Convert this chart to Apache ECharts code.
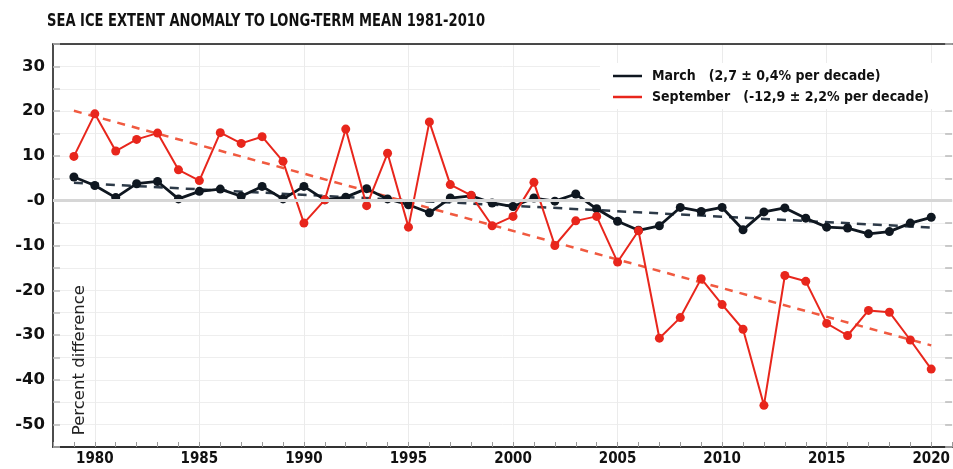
<!DOCTYPE html>
<html><head><meta charset="utf-8">
<script src="https://cdn.jsdelivr.net/npm/echarts@6/dist/echarts.min.js"></script>
<style>html,body{margin:0;padding:0;background:#fff}#c{width:953px;height:469px}</style>
</head><body><div id="c"></div>
<script>
const axisYears = [1978,1979,1980,1981,1982,1983,1984,1985,1986,1987,1988,1989,1990,1991,1992,1993,1994,1995,1996,1997,1998,1999,2000,2001,2002,2003,2004,2005,2006,2007,2008,2009,2010,2011,2012,2013,2014,2015,2016,2017,2018,2019,2020,2021];
const dataYears = [1979,1980,1981,1982,1983,1984,1985,1986,1987,1988,1989,1990,1991,1992,1993,1994,1995,1996,1997,1998,1999,2000,2001,2002,2003,2004,2005,2006,2007,2008,2009,2010,2011,2012,2013,2014,2015,2016,2017,2018,2019,2020];
const march = [5.3,3.4,0.7,3.8,4.3,0.4,2.1,2.6,1.0,3.2,0.4,3.2,0.2,0.8,2.7,0.4,-0.9,-2.7,0.6,1.1,-0.5,-1.3,0.6,-0.1,1.5,-1.8,-4.6,-6.6,-5.6,-1.5,-2.4,-1.5,-6.5,-2.5,-1.6,-3.9,-5.9,-6.1,-7.4,-6.9,-5.0,-3.7];
const september = [9.9,19.4,11.1,13.7,15.1,6.9,4.5,15.2,12.8,14.3,8.8,-5.0,0.2,16.0,-1.1,10.6,-5.9,17.6,3.6,1.2,-5.6,-3.5,4.1,-10.0,-4.5,-3.5,-13.7,-6.7,-30.7,-26.1,-17.4,-23.2,-28.7,-45.7,-16.7,-18.0,-27.4,-30.1,-24.5,-24.9,-31.1,-37.6];
const trendYears = [1979, 2020];
const marchTrend = [4.0, -6.0];
const septemberTrend = [20.1, -32.3];
const seriesNames = ['March', 'September'];
const legendLabels = ['March   (2,7 \u00b1 0,4% per decade)', 'September   (-12,9 \u00b1 2,2% per decade)'];
const titleText = 'SEA ICE EXTENT ANOMALY TO LONG-TERM MEAN 1981-2010';
const yAxisTitle = 'Percent difference';

const pairs = (xs, vs) => xs.map((x, i) => [String(x), vs[i]]);
const condensed = '"DejaVu Sans Condensed", "DejaVu Sans", sans-serif';

// fit the title to the reference width with a horizontal scale
const titleFont = 'bold 18px "DejaVu Sans Condensed", "DejaVu Sans", sans-serif';
const ctx = document.createElement('canvas').getContext('2d');
ctx.font = titleFont;
const titleScale = Math.min(1, 438 / ctx.measureText(titleText).width);

const chart = echarts.init(document.getElementById('c'), null, {renderer: 'canvas'});
chart.setOption({
  animation: false,
  backgroundColor: '#fff',
  grid: {left: 53, right: -1, top: 44, bottom: 22, show: false},
  legend: {
    orient: 'vertical', left: 600, top: 63,
    data: seriesNames,
    icon: 'rect', itemWidth: 29, itemHeight: 2.5, itemGap: 7,
    backgroundColor: '#fff', padding: [6, 40, 5, 13],
    formatter: n => legendLabels[seriesNames.indexOf(n)],
    textStyle: {fontFamily: condensed, fontWeight: 'bold', fontSize: 14, color: '#111', padding: [0, 0, 0, 5]}
  },
  graphic: [{
    type: 'text', x: 47, y: 12, scaleX: titleScale,
    style: {text: titleText, font: titleFont, fill: '#111'}
  }, {
    type: 'text', left: 71, top: 285, rotation: Math.PI / 2,
    style: {text: yAxisTitle, font: '16.5px "DejaVu Sans", sans-serif', fill: '#222'},
    z: 10
  }],
  xAxis: [{
    type: 'category', data: axisYears.map(String), boundaryGap: false, position: 'bottom',
    axisLine: {show: true, onZero: false, lineStyle: {color: '#333', width: 2}},
    axisTick: {show: true, inside: true, length: 5, interval: 0, lineStyle: {color: '#999'}},
    axisLabel: {
      interval: (i, v) => Number(v) % 5 === 0, margin: 5,
      fontFamily: condensed, fontWeight: 'bold', fontSize: 15, color: '#111'
    },
    splitLine: {show: true, interval: (i, v) => Number(v) % 5 === 0, lineStyle: {color: '#ebebeb', width: 1}}
  }, {
    type: 'category', data: axisYears.map(String), boundaryGap: false, position: 'top',
    axisLine: {show: true, onZero: false, lineStyle: {color: '#111', width: 1.5}},
    axisTick: {show: false}, axisLabel: {show: false}, splitLine: {show: false}
  }],
  yAxis: [{
    type: 'value', min: -55, max: 35, interval: 5, position: 'left',
    axisLine: {show: true, onZero: false, lineStyle: {color: '#111', width: 1.5}},
    axisTick: {show: true, inside: true, length: 7, lineStyle: {color: '#bbb', width: 1.5}},
    axisLabel: {
      margin: 8, fontFamily: '"DejaVu Sans", sans-serif', fontWeight: 'bold', fontSize: 16.5, color: '#111',
      formatter: v => (v % 10 !== 0 ? '' : (v === 0 ? '-0' : String(v)))
    },
    splitLine: {show: true, lineStyle: {color: '#eeeeee', width: 1}}
  }, {
    type: 'value', min: -55, max: 35, interval: 5, position: 'right',
    axisLine: {show: false, onZero: false},
    axisTick: {show: true, inside: true, length: 7, lineStyle: {color: '#bbb', width: 1.5}},
    axisLabel: {show: false}, splitLine: {show: false}
  }],
  series: [
    {
      name: 'zero', type: 'line', data: [], silent: true,
      markLine: {silent: true, symbol: 'none', label: {show: false},
        lineStyle: {color: '#d6d6d6', width: 3, type: 'solid'}, data: [{yAxis: 0}]}
    },
    {
      name: 'March trend', type: 'line', data: pairs(trendYears, marchTrend), showSymbol: false, silent: true,
      lineStyle: {color: '#2d3a48', width: 2.5, type: [9, 7]}, z: 2
    },
    {
      name: 'September trend', type: 'line', data: pairs(trendYears, septemberTrend), showSymbol: false, silent: true,
      lineStyle: {color: '#f05a40', width: 2.5, type: [8, 7]}, z: 2
    },
    {
      name: 'March', type: 'line', data: pairs(dataYears, march),
      symbol: 'circle', symbolSize: 9, color: '#0f1720',
      lineStyle: {color: '#0f1720', width: 2.8}, itemStyle: {color: '#0f1720'}, z: 3
    },
    {
      name: 'September', type: 'line', data: pairs(dataYears, september),
      symbol: 'circle', symbolSize: 9, color: '#e8261c',
      lineStyle: {color: '#e8261c', width: 2}, itemStyle: {color: '#e8261c'}, z: 4
    }
  ]
});
</script></body></html>
